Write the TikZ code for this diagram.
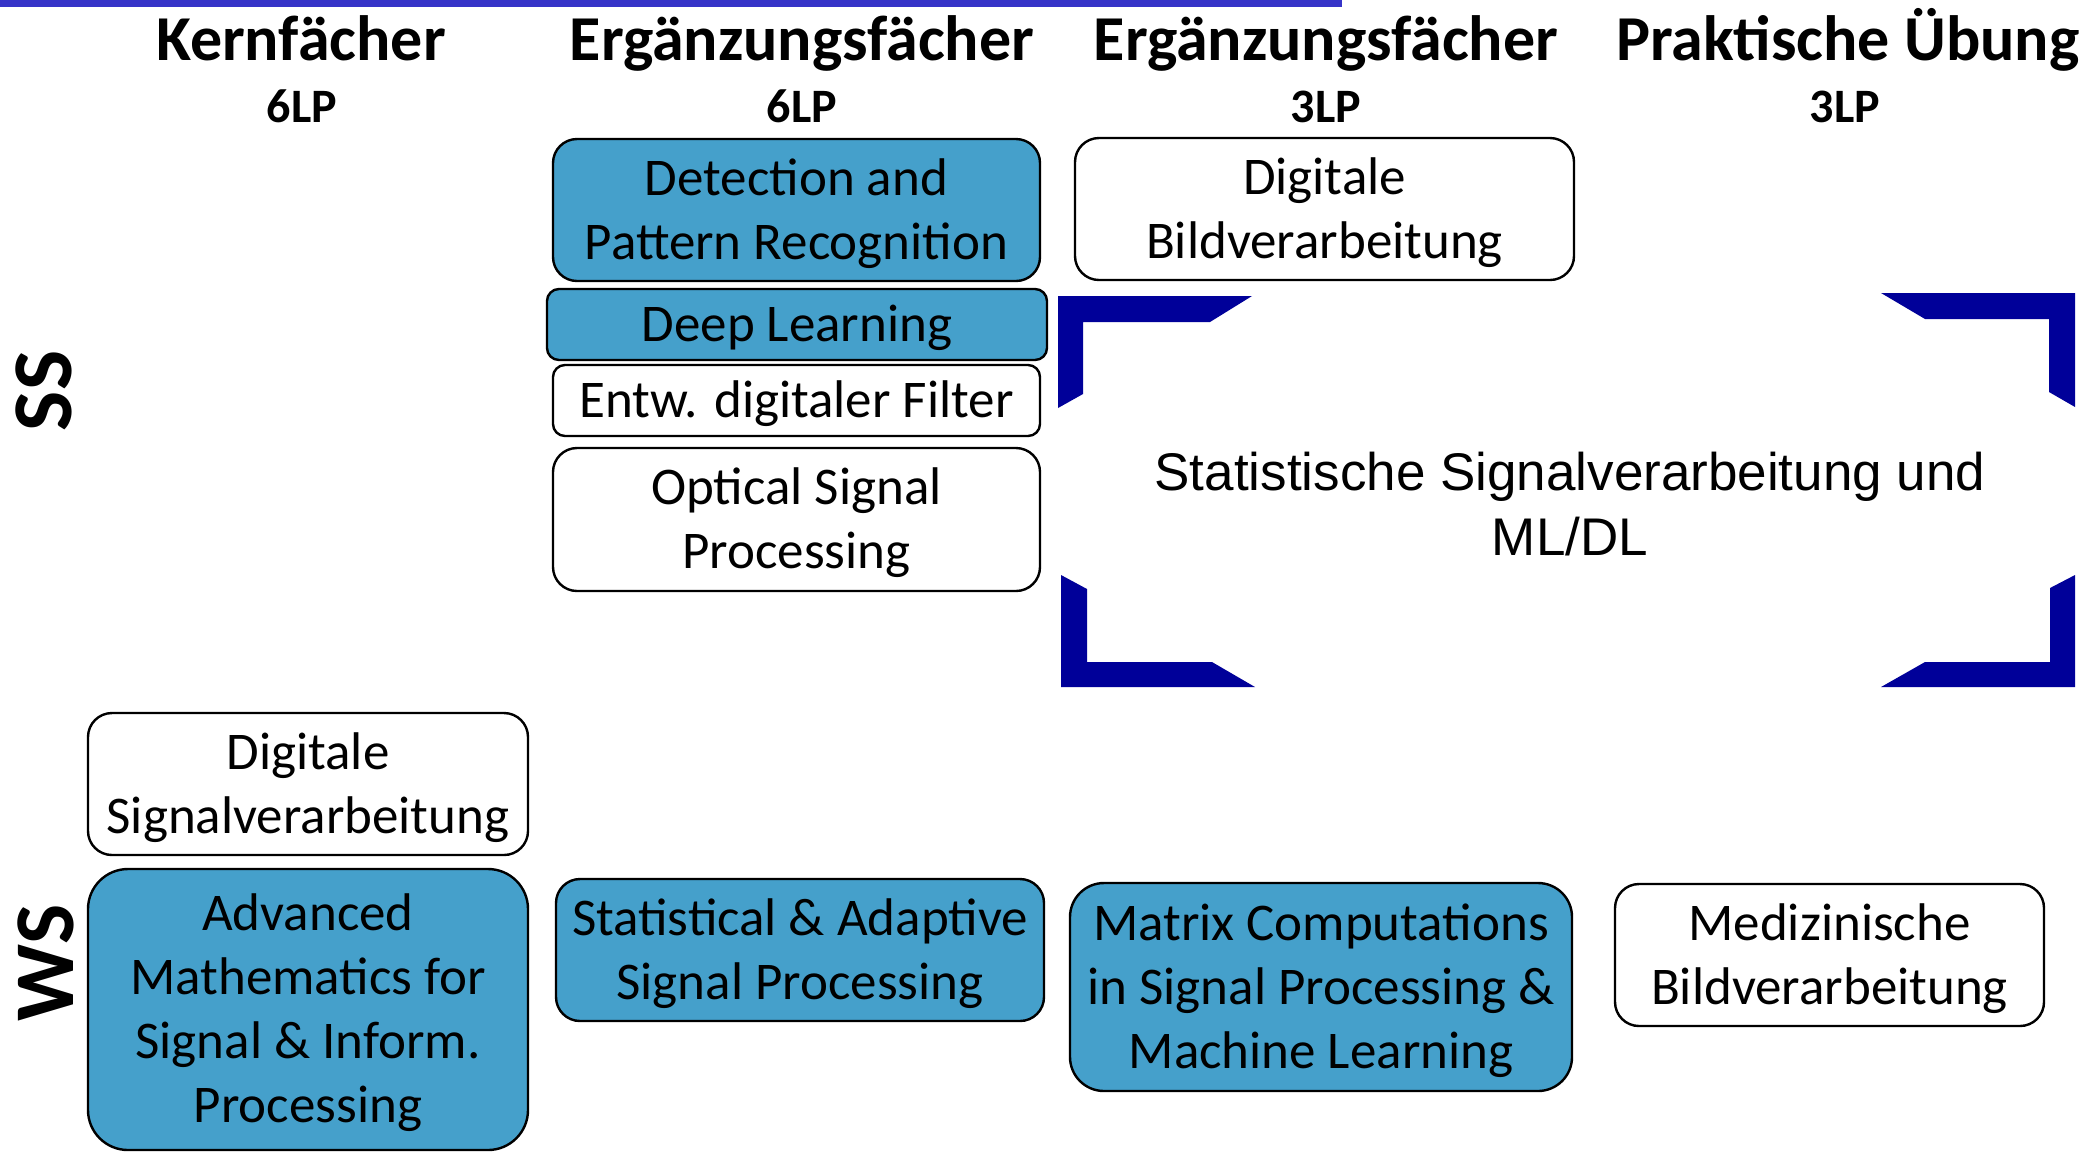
\documentclass[tikz,border=0pt]{standalone}
\usepackage{fontspec}
\setmainfont{Carlito}
\newfontfamily\arialfont{Liberation Sans}
\definecolor{boxblue}{RGB}{69,160,203}
\definecolor{framenavy}{RGB}{0,0,153}
\definecolor{topline}{RGB}{54,52,200}
\newcommand\tstrut{\rule{0pt}{24pt}}
\newcommand\bstrut{\rule[-7pt]{0pt}{0pt}}
\tikzset{
  coursebox/.style={draw=black, line width=1.2pt, align=center, inner sep=0pt,
    font=\fontsize{26.5}{32}\selectfont, text=black},
  corebox/.style={coursebox, fill=boxblue},
  optbox/.style={coursebox, fill=white},
  colhead/.style={anchor=base, font=\bfseries\fontsize{32}{38}\selectfont},
  credits/.style={anchor=base, font=\bfseries\fontsize{24}{28}\selectfont},
  semester/.style={rotate=90, font=\bfseries\fontsize{42.5}{50}\selectfont},
  framecorner/.style={fill=framenavy},
}
\begin{document}
\begin{tikzpicture}[x=0.5pt,y=-0.5pt]
\useasboundingbox (0,0) rectangle (2080,1153);
\clip (0,0) rectangle (2080,1153);
\fill[white] (0,0) rectangle (2080,1153);
% top line
\fill[topline] (0,0) rectangle (1342,7);

% column headers
\node[colhead] (h1) at (301,60) {Kernfächer};
\node[colhead] (h2) at (802,60) {Ergänzungsfächer};
\node[colhead] (h3) at (1326,60) {Ergänzungsfächer};
\node[colhead] (h4) at (1848,60) {Praktische Übung};
\node[credits] (c1) at (302,122) {6LP};
\node[credits] (c2) at (802,122) {6LP};
\node[credits] (c3) at (1326,122) {3LP};
\node[credits] (c4) at (1845,122) {3LP};

% semester labels
\node[semester] (ss) at (44,391) {SS};
\node[semester] (ws) at (46,963) {WS};

% summer semester boxes
\node[corebox, minimum width=243.5pt, minimum height=71pt, rounded corners=12pt] (dpr) at (796.5,210) {\tstrut Detection and\\Pattern Recognition\bstrut};
\node[corebox, minimum width=250pt, minimum height=35.5pt, rounded corners=6pt] (dl) at (797,324.5) {\tstrut Deep Learning\bstrut};
\node[optbox, minimum width=243.5pt, minimum height=35.5pt, rounded corners=6pt] (edf) at (796.5,400.5) {\tstrut Entw. digitaler Filter\bstrut};
\node[optbox, minimum width=243.5pt, minimum height=71.5pt, rounded corners=12pt] (osp) at (796.5,519.5) {\tstrut Optical Signal\\Processing\bstrut};
\node[optbox, minimum width=249.5pt, minimum height=71pt, rounded corners=12pt] (dbv) at (1324.5,209) {\tstrut Digitale\\Bildverarbeitung\bstrut};

% frame corners
\fill[framecorner] (1058,296) -- (1252,296) -- (1210,322) -- (1083,322) -- (1083,394) -- (1058,408) -- cycle;
\fill[framecorner] (2075,293) -- (1881,293) -- (1925,319) -- (2049,319) -- (2049,392) -- (2075,407) -- cycle;
\fill[framecorner] (1061,575) -- (1087,589) -- (1087,662) -- (1212,662) -- (1255,687) -- (1061,687) -- cycle;
\fill[framecorner] (2075,575) -- (2050,588) -- (2050,662) -- (1925,662) -- (1881,687) -- (2075,687) -- cycle;
\node[align=center, inner sep=0pt, font=\arialfont\fontsize{26.5}{32.5}\selectfont] (ssml) at (1570,504) {Statistische Signalverarbeitung und\\ML/DL};

% winter semester boxes
\node[optbox, minimum width=220pt, minimum height=71pt, rounded corners=12pt] (dsv) at (308,784) {\tstrut Digitale\\Signalverarbeitung\bstrut};
\node[corebox, minimum width=220pt, minimum height=140.5pt, rounded corners=20pt] (amsip) at (308,1009.5) {\tstrut Advanced\\Mathematics for\\Signal \& Inform.\\Processing\bstrut};
\node[corebox, minimum width=244pt, minimum height=71pt, rounded corners=12pt] (sasp) at (800,950) {\tstrut Statistical \& Adaptive\\Signal Processing\bstrut};
\node[corebox, minimum width=251pt, minimum height=104pt, rounded corners=17pt] (mcsp) at (1321,987) {\tstrut Matrix Computations\\in Signal Processing \&\\Machine Learning\bstrut};
\node[optbox, minimum width=214.5pt, minimum height=71pt, rounded corners=12pt] (mbv) at (1829.5,955) {\tstrut Medizinische\\Bildverarbeitung\bstrut};
\end{tikzpicture}
\end{document}
